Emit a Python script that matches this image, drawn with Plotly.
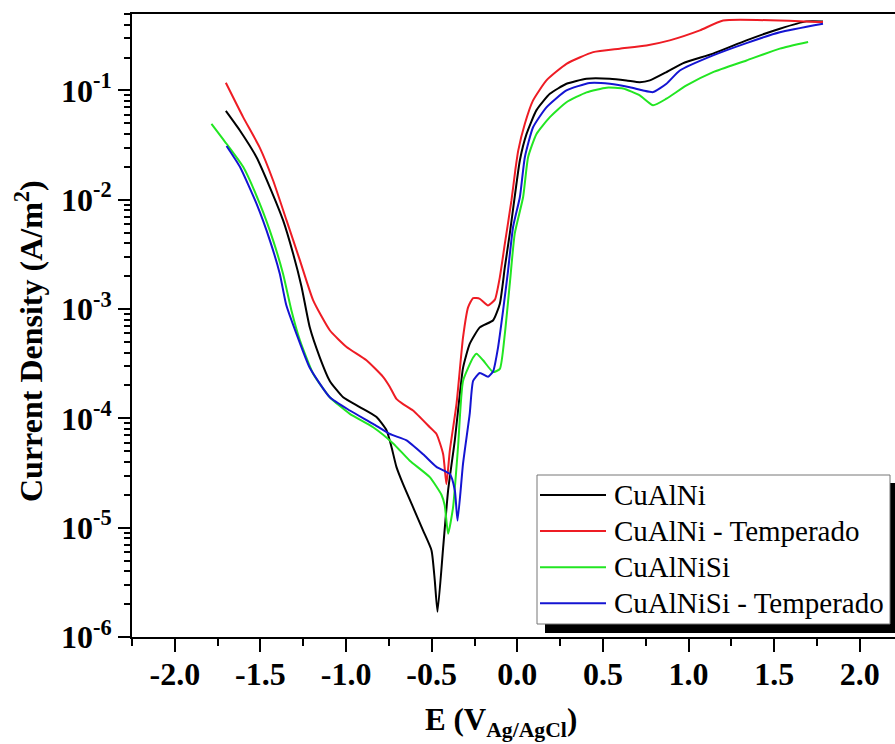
import math
import plotly.graph_objects as go

# ---------------- data ----------------
E_cualni = [-1.702, -1.620, -1.523, -1.445, -1.368, -1.309, -1.260, -1.212, -1.153, -1.095,
            -1.017, -0.920, -0.822, -0.764, -0.735, -0.706, -0.667, -0.609, -0.550, -0.501,
            -0.482, -0.466, -0.433, -0.404, -0.365, -0.346, -0.317, -0.278, -0.219, -0.141,
            -0.102, -0.073, -0.044, -0.005, 0.015, 0.054, 0.112, 0.190, 0.287, 0.404,
            0.540, 0.637, 0.715, 0.774, 0.871, 0.966, 1.143, 1.338, 1.533, 1.689, 1.785]
J_cualni = [6.5e-2, 4.3e-2, 2.45e-2, 1.3e-2, 6.5e-3, 3.2e-3, 1.6e-3, 6.8e-4, 3.6e-4, 2.2e-4,
            1.56e-4, 1.27e-4, 1.03e-4, 7.8e-5, 5.5e-5, 3.6e-5, 2.5e-5, 1.54e-5, 9.4e-6, 6.2e-6,
            3.3e-6, 1.7e-6, 6.6e-6, 2.2e-5, 6.3e-5, 1.18e-4, 2.9e-4, 4.8e-4, 6.8e-4, 7.9e-4,
            1.12e-3, 2.4e-3, 4.9e-3, 1.4e-2, 2.3e-2, 4.0e-2, 6.6e-2, 9.3e-2, 0.115, 0.128,
            0.128, 0.1235, 0.119, 0.1235, 0.147, 0.177, 0.217, 0.287, 0.367, 0.428, 0.428]

E_cualni_temp = [-1.702, -1.601, -1.504, -1.426, -1.348, -1.270, -1.192, -1.095, -0.997, -0.881,
                 -0.784, -0.745, -0.706, -0.667, -0.609, -0.511, -0.472, -0.433, -0.414, -0.394,
                 -0.355, -0.317, -0.287, -0.258, -0.219, -0.171, -0.131, -0.102, -0.073, -0.034,
                 -0.012, 0.005, 0.044, 0.092, 0.170, 0.287, 0.443, 0.598, 0.754, 0.890,
                 1.066, 1.202, 1.689, 1.785]
J_cualni_temp = [0.1175, 5.7e-2, 3.0e-2, 1.5e-2, 6.5e-3, 2.8e-3, 1.2e-3, 6.4e-4, 4.5e-4, 3.4e-4,
                 2.4e-4, 1.95e-4, 1.51e-4, 1.35e-4, 1.18e-4, 8.3e-5, 7.2e-5, 4.7e-5, 2.5e-5, 5.1e-5,
                 1.36e-4, 5.5e-4, 1.04e-3, 1.26e-3, 1.24e-3, 1.08e-3, 1.22e-3, 1.96e-3, 3.95e-3, 9.9e-3,
                 1.85e-2, 2.8e-2, 4.95e-2, 8.1e-2, 0.1235, 0.175, 0.224, 0.241, 0.258, 0.287,
                 0.354, 0.436, 0.428, 0.422]

E_cualnisi = [-1.786, -1.698, -1.601, -1.504, -1.426, -1.368, -1.319, -1.270, -1.192, -1.095,
              -0.978, -0.842, -0.725, -0.628, -0.511, -0.443, -0.424, -0.404, -0.375, -0.346,
              -0.317, -0.258, -0.238, -0.200, -0.141, -0.102, -0.073, -0.044, -0.015, 0.034,
              0.063, 0.112, 0.190, 0.287, 0.404, 0.521, 0.618, 0.715, 0.793, 0.871,
              0.988, 1.143, 1.338, 1.533, 1.698]
J_cualnisi = [4.95e-2, 3.25e-2, 2.0e-2, 9.2e-3, 4.25e-3, 2.1e-3, 9.7e-4, 5.2e-4, 2.56e-4, 1.56e-4,
              1.10e-4, 8.3e-5, 5.9e-5, 4.1e-5, 2.9e-5, 2.0e-5, 1.6e-5, 8.8e-6, 1.54e-5, 5.5e-5,
              2.2e-4, 3.6e-4, 3.9e-4, 3.4e-4, 2.65e-4, 2.84e-4, 5.9e-4, 1.7e-3, 4.9e-3, 1.06e-2,
              2.45e-2, 4.0e-2, 5.7e-2, 7.8e-2, 9.6e-2, 0.106, 0.104, 0.090, 0.073, 0.084,
              0.111, 0.147, 0.188, 0.241, 0.277]

E_cualnisi_temp = [-1.698, -1.620, -1.523, -1.445, -1.387, -1.350, -1.289, -1.212, -1.095, -0.978,
                   -0.842, -0.745, -0.647, -0.550, -0.472, -0.394, -0.365, -0.349, -0.317, -0.278,
                   -0.258, -0.219, -0.171, -0.141, -0.112, -0.083, -0.054, -0.025, 0.015, 0.044,
                   0.092, 0.170, 0.287, 0.423, 0.540, 0.657, 0.734, 0.793, 0.871, 0.949,
                   1.143, 1.338, 1.533, 1.785]
J_cualnisi_temp = [3.1e-2, 2.0e-2, 9.2e-3, 4.25e-3, 2.1e-3, 1.1e-3, 5.9e-4, 2.9e-4, 1.56e-4, 1.18e-4,
                   8.9e-5, 7.2e-5, 6.3e-5, 4.7e-5, 3.6e-5, 3.1e-5, 2.2e-5, 1.16e-5, 3.85e-5, 1.1e-4,
                   2.2e-4, 2.6e-4, 2.4e-4, 2.7e-4, 4.5e-4, 9.7e-4, 2.25e-3, 5.6e-3, 1.06e-2, 2.45e-2,
                   4.6e-2, 7.0e-2, 0.100, 0.117, 0.115, 0.107, 0.100, 0.0965, 0.115, 0.152,
                   0.209, 0.271, 0.341, 0.408]

series_names = ["CuAlNi", "CuAlNi - Temperado", "CuAlNiSi", "CuAlNiSi - Temperado"]
series_E = [E_cualni, E_cualni_temp, E_cualnisi, E_cualnisi_temp]
series_J = [J_cualni, J_cualni_temp, J_cualnisi, J_cualnisi_temp]
series_colors = ["#000000", "#ee1c24", "#22e622", "#1414d2"]

x_tick_vals = [-2.0, -1.5, -1.0, -0.5, 0.0, 0.5, 1.0, 1.5, 2.0]
x_tick_text = ["-2.0", "-1.5", "-1.0", "-0.5", "0.0", "0.5", "1.0", "1.5", "2.0"]
x_minor_vals = [-2.25, -1.75, -1.25, -0.75, -0.25, 0.25, 0.75, 1.25, 1.75]
y_tick_vals = [1e-6, 1e-5, 1e-4, 1e-3, 1e-2, 1e-1]
y_tick_text = ["10<sup>-6</sup>", "10<sup>-5</sup>", "10<sup>-4</sup>",
               "10<sup>-3</sup>", "10<sup>-2</sup>", "10<sup>-1</sup>"]

x_title = "<b>E (V<sub>Ag/AgCl</sub>)</b>"
y_title = "<b>Current Density (A/m<sup>2</sup>)</b>"

# ---------------- layout geometry ----------------
W, H = 895, 744
ML, MR, MT, MB = 132, 0, 14, 107
PW, PH = W - ML - MR, H - MT - MB
X_RANGE = [-2.25, -2.25 + PW / 171.25]
Y_RANGE = [-6, math.log10(0.5)]
FONT = "Liberation Serif"


def px(x):
    return (x - ML) / PW


def py(y):
    return (H - MB - y) / PH


def bold(items):
    return ["<b>" + t + "</b>" for t in items]


y_minor_vals = [m * 10.0 ** e for e in range(-6, 0) for m in range(2, 10)]

fig = go.Figure()
for name, E, J, col in zip(series_names, series_E, series_J, series_colors):
    fig.add_trace(go.Scatter(x=E, y=J, mode="lines", name=name,
                             line=dict(color=col, width=2, shape="spline", smoothing=0.5),
                             showlegend=False))

axis_common = dict(showline=True, linecolor="black", linewidth=2, showgrid=False,
                   zeroline=False, ticks="outside", tickcolor="black", tickwidth=2,
                   tickfont=dict(family=FONT, size=32, color="black"))

fig.update_xaxes(range=X_RANGE, tickvals=x_tick_vals, ticktext=bold(x_tick_text), ticklen=13,
                 mirror=True, ticklabelstandoff=-5,
                 minor=dict(tickvals=x_minor_vals, ticks="outside", ticklen=7,
                            tickwidth=2, tickcolor="black", showgrid=False),
                 **axis_common)
fig.update_yaxes(type="log", range=Y_RANGE, tickvals=y_tick_vals, ticktext=bold(y_tick_text),
                 ticklen=12,
                 minor=dict(tickvals=y_minor_vals, ticks="outside", ticklen=6,
                            tickwidth=1.5, tickcolor="black", showgrid=False),
                 **axis_common)

# ---------------- legend drawn by hand (with drop shadow) ----------------
shapes = [
    dict(type="rect", xref="paper", yref="paper", x0=px(545), x1=px(905),
         y0=py(633), y1=py(483), fillcolor="black", line=dict(width=0), layer="above"),
    dict(type="rect", xref="paper", yref="paper", x0=px(537), x1=px(890),
         y0=py(624), y1=py(475), fillcolor="white", line=dict(color="#777777", width=1),
         layer="above"),
]
annotations = []
for i, (name, col) in enumerate(zip(series_names, series_colors)):
    yy = 495 + 36.1 * i
    shapes.append(dict(type="line", xref="paper", yref="paper", x0=px(540), x1=px(606),
                       y0=py(yy), y1=py(yy), line=dict(color=col, width=2), layer="above"))
    annotations.append(dict(xref="paper", yref="paper", x=px(612), y=py(yy),
                            xanchor="left", yanchor="middle", showarrow=False, text=name,
                            font=dict(family=FONT, size=29, color="black")))

annotations.append(dict(xref="paper", yref="paper", x=px(29), y=py(341), textangle=-90,
                        xanchor="center", yanchor="middle", showarrow=False, text=y_title,
                        font=dict(family=FONT, size=32, color="black")))
annotations.append(dict(xref="paper", yref="paper", x=px(501), y=py(722),
                        xanchor="center", yanchor="middle", showarrow=False, text=x_title,
                        font=dict(family=FONT, size=31, color="black")))

fig.update_layout(width=W, height=H, margin=dict(l=ML, r=MR, t=MT, b=MB),
                  paper_bgcolor="white", plot_bgcolor="white",
                  shapes=shapes, annotations=annotations, showlegend=False)

fig.write_html("out.html")
